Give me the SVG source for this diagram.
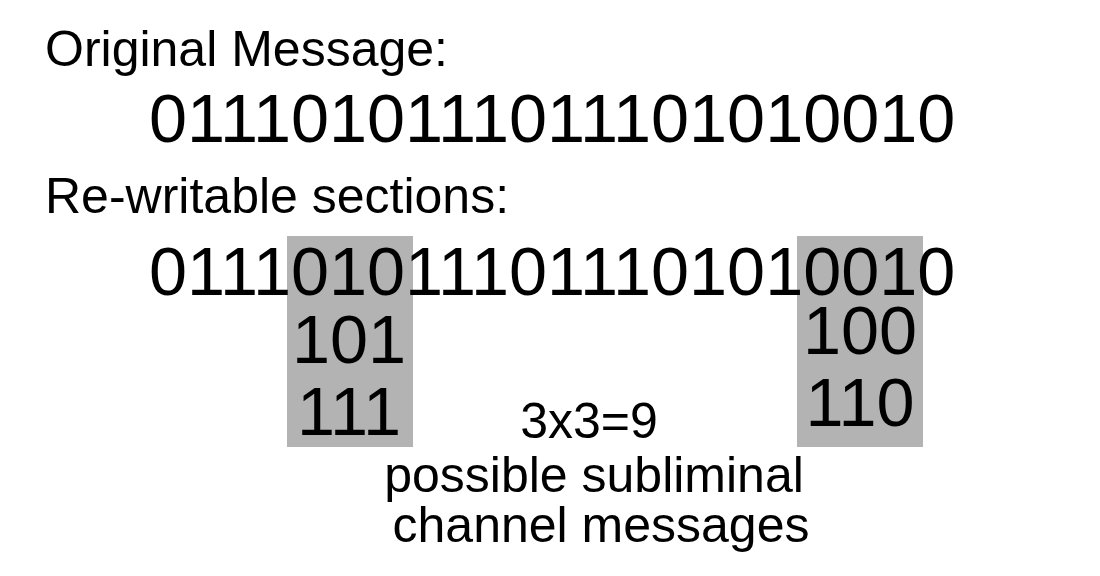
<svg xmlns="http://www.w3.org/2000/svg" width="1100" height="576" viewBox="0 0 1100 576">
<style>
text{font-family:"Liberation Sans",Arial,sans-serif;fill:#000}
.h{font-size:50px}
.d{font-size:68.4px}
.c{text-anchor:middle}
.box{fill:#b3b3b3}
</style>
<rect width="1100" height="576" fill="#fff"/>
<g id="boxes">
<rect class="box" x="287" y="236" width="126" height="211"/>
<rect class="box" x="797" y="236" width="126" height="211"/>
</g>
<g id="labels">
<text class="h" x="45" y="66">Original Message:</text>
<text class="d" x="149" y="142">0111010111011101010010</text>
<text class="h" x="45" y="213">Re-writable sections:</text>
<text class="d" x="149" y="295">0111010111011101010010</text>
<text class="d c" x="349" y="363">101</text>
<text class="d c" x="860" y="354">100</text>
<text class="d c" x="349" y="435">111</text>
<text class="d c" x="860" y="426">110</text>
<text class="h c" x="589" y="438">3x3=9</text>
<text class="h c" x="594" y="492">possible subliminal</text>
<text class="h c" x="601" y="542">channel messages</text>
</g>
</svg>
